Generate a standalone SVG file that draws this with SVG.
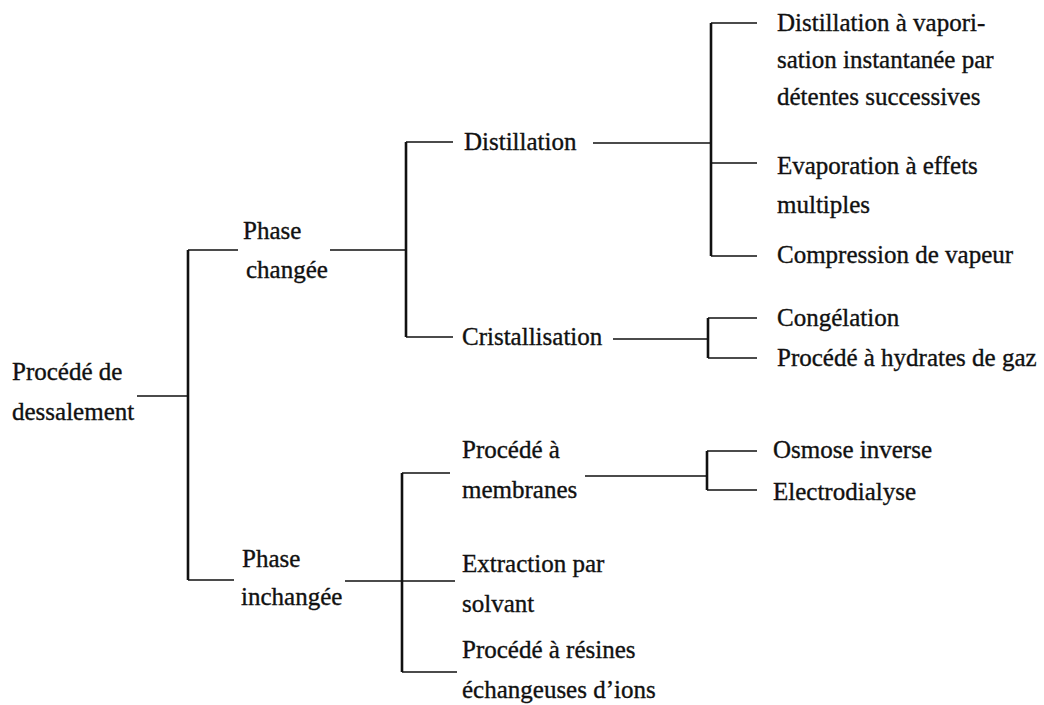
<svg xmlns="http://www.w3.org/2000/svg" width="1044" height="705" viewBox="0 0 1044 705">
<style>
text{font-family:"Liberation Serif","Times New Roman",serif;font-size:25px;fill:#111;stroke:#111;stroke-width:0.35}
.h{stroke:#111;stroke-width:1.6;fill:none}
.v{stroke:#111;stroke-width:2.6;fill:none}
</style>
<rect width="1044" height="705" fill="#fff"/>
<g id="connectors">
<path class="h" d="M137 396H188M188 250H238M188 580H234"/>
<path class="v" d="M188 250V580"/>
<path class="h" d="M330 250H406M406 142H453M406 337H453"/>
<path class="v" d="M406 142V337"/>
<path class="h" d="M593 143H711M711 23H757M711 163H757M711 256H757"/>
<path class="v" d="M711 23V256"/>
<path class="h" d="M613 339H708M708 318H757M708 358H757"/>
<path class="v" d="M708 318V358"/>
<path class="h" d="M345 581H455M402 473H450M402 672H457"/>
<path class="v" d="M402 473V672"/>
<path class="h" d="M585 476H707M707 451H757M707 490H757"/>
<path class="v" d="M707 451V490"/>
</g>
<g id="n-root"><text x="12" y="380">Procédé de</text><text x="12" y="420">dessalement</text></g>
<g id="n-phase-changee"><text x="243" y="239">Phase</text><text x="246" y="278">changée</text></g>
<g id="n-phase-inchangee"><text x="242" y="567">Phase</text><text x="241" y="605">inchangée</text></g>
<g id="n-distillation"><text x="464" y="150">Distillation</text></g>
<g id="n-cristallisation"><text x="462" y="345">Cristallisation</text></g>
<g id="n-membranes"><text x="462" y="458">Procédé à</text><text x="462" y="498">membranes</text></g>
<g id="n-extraction"><text x="462" y="572">Extraction par</text><text x="462" y="612">solvant</text></g>
<g id="n-resines"><text x="462" y="658">Procédé à résines</text><text x="462" y="698">échangeuses d’ions</text></g>
<g id="n-flash"><text x="777" y="31">Distillation à vapori-</text><text x="777" y="68">sation instantanée par</text><text x="777" y="105">détentes successives</text></g>
<g id="n-evaporation"><text x="777" y="174">Evaporation à effets</text><text x="777" y="213">multiples</text></g>
<g id="n-compression"><text x="777" y="263">Compression de vapeur</text></g>
<g id="n-congelation"><text x="777" y="326">Congélation</text></g>
<g id="n-hydrates"><text x="777" y="366">Procédé à hydrates de gaz</text></g>
<g id="n-osmose"><text x="773" y="458">Osmose inverse</text></g>
<g id="n-electrodialyse"><text x="773" y="500">Electrodialyse</text></g>
</svg>
